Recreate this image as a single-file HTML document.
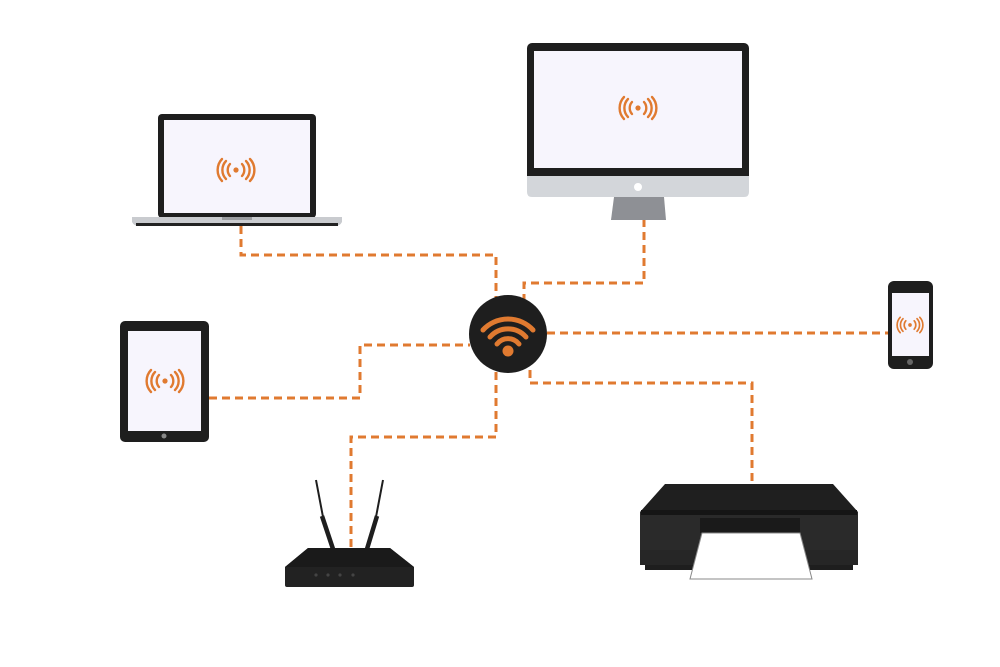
<!DOCTYPE html>
<html><head><style>html,body{margin:0;padding:0;background:#fff}svg{display:block}</style></head>
<body>
<svg width="1000" height="667" viewBox="0 0 1000 667" xmlns="http://www.w3.org/2000/svg">
<defs>
<g id="rad" fill="none" stroke="#e07a30" stroke-width="2.4" stroke-linecap="round">
<circle cx="0" cy="0" r="2.6" fill="#e07a30" stroke="none"/>
<path d="M-6,-6 A9,9 0 0 0 -6,6"/><path d="M-10,-9 A13,13 0 0 0 -10,9"/><path d="M-14,-11 A16,16 0 0 0 -14,11"/>
<path d="M6,-6 A9,9 0 0 1 6,6"/><path d="M10,-9 A13,13 0 0 1 10,9"/><path d="M14,-11 A16,16 0 0 1 14,11"/>
</g>
</defs>
<g fill="none" stroke="#e07a30" stroke-width="3" stroke-dasharray="8,5">
<path d="M241,226 V255 H496 V298"/>
<path d="M644,219 V283 H524 V300"/>
<path d="M547,333 H888"/>
<path d="M209,398 H360 V345 H470"/>
<path d="M496,372 V437 H351 V548"/>
<path d="M530,370 V383 H752 V485"/>
</g>
<!-- laptop -->
<rect x="158" y="114" width="158" height="104" rx="4" fill="#1e1e1e"/>
<rect x="164" y="120" width="146" height="93" fill="#f7f5fd"/>
<path d="M132,217 H342 V222 Q340,226 335,226 H139 Q134,226 132,222Z" fill="#c9cbcf"/>
<rect x="222" y="217" width="30" height="3" fill="#9a9ca0"/>
<rect x="136" y="223" width="202" height="3" fill="#222"/>
<use href="#rad" x="236" y="170"/>
<!-- monitor -->
<rect x="527" y="43" width="222" height="140" rx="5" fill="#1e1e1e"/>
<rect x="534" y="51" width="208" height="117" fill="#f7f5fd"/>
<path d="M527,176 H749 V192 Q749,197 744,197 H532 Q527,197 527,192Z" fill="#d3d6da"/>
<circle cx="638" cy="187" r="4" fill="#fff"/>
<path d="M614,197 H664 L666,220 H611Z" fill="#8e9095"/>
<use href="#rad" x="638" y="108"/>
<!-- phone -->
<rect x="888" y="281" width="45" height="88" rx="6" fill="#1e1e1e"/>
<rect x="892" y="293" width="37" height="63" fill="#f7f5fd"/>
<circle cx="910" cy="362" r="3" fill="#666"/>
<use href="#rad" x="910" y="325" transform="translate(910,325) scale(0.7) translate(-910,-325)"/>
<!-- tablet -->
<rect x="120" y="321" width="89" height="121" rx="5" fill="#1e1e1e"/>
<rect x="128" y="331" width="73" height="100" fill="#f7f5fd"/>
<circle cx="164" cy="436" r="2.5" fill="#888"/>
<use href="#rad" x="165" y="381"/>
<!-- hub -->
<circle cx="508" cy="334" r="39" fill="#1e1e1e"/>
<g fill="none" stroke="#e07a30" stroke-width="5" stroke-linecap="round">
<path d="M483,330 A34,34 0 0 1 533,330"/>
<path d="M490,337 A24,24 0 0 1 526,337"/>
<path d="M497,344 A14,14 0 0 1 519,344"/>
</g>
<circle cx="508" cy="351" r="5.5" fill="#e07a30"/>
<!-- router -->
<path d="M316,480 L323,517 M383,480 L376,517" stroke="#1e1e1e" stroke-width="2"/>
<path d="M322,516 L333,549 M377,516 L367,549" stroke="#1e1e1e" stroke-width="4.5"/>
<path d="M308,548 H390 L414,567 V585 Q414,587 412,587 H287 Q285,587 285,585 V567Z" fill="#222"/>
<path d="M308,548 H390 L414,567 H285Z" fill="#1a1a1a"/>
<g fill="#444"><circle cx="316" cy="575" r="1.6"/><circle cx="328" cy="575" r="1.6"/><circle cx="340" cy="575" r="1.6"/><circle cx="353" cy="575" r="1.6"/></g>
<!-- printer -->
<path d="M665,484 H833 L858,512 H640Z" fill="#1f1f1f"/>
<rect x="640" y="512" width="218" height="53" fill="#2a2a2a"/>
<rect x="645" y="565" width="208" height="5" fill="#1e1e1e"/>
<rect x="640" y="550" width="218" height="15" fill="#262626"/>
<rect x="641" y="510" width="216" height="5" fill="#151515"/>
<rect x="700" y="518" width="100" height="15" fill="#1a1a1a"/>
<path d="M702,533 H800 L812,579 H690Z" fill="#fff" stroke="#888" stroke-width="1"/>
</svg>
</body></html>
